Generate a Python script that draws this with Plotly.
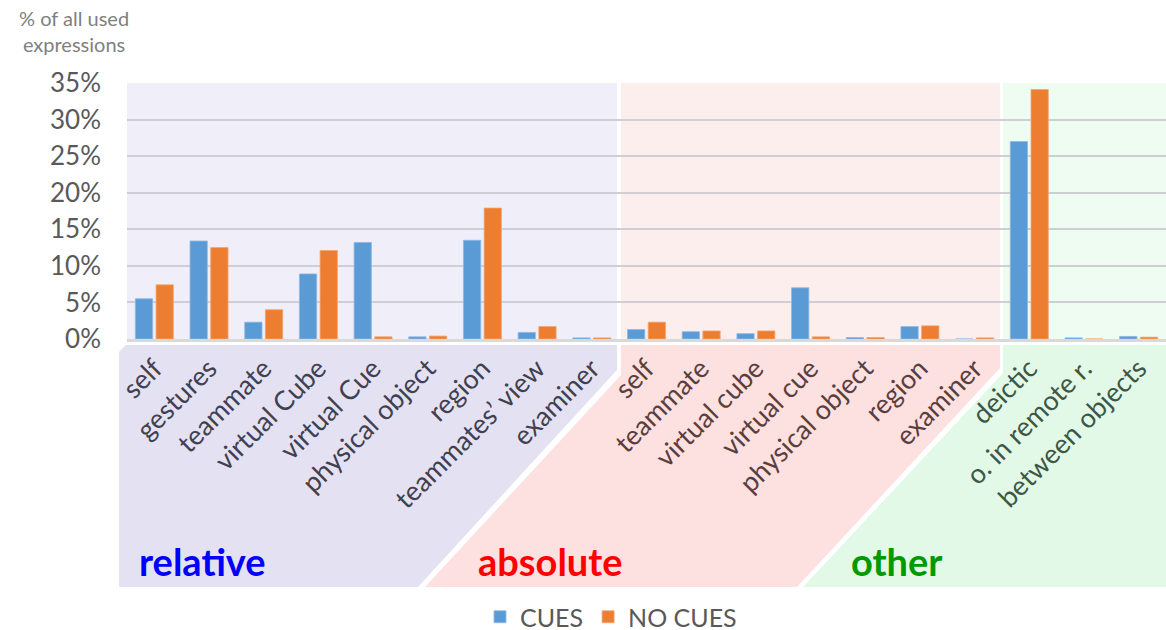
import plotly.graph_objects as go

# ---------------- data ----------------
categories = ["self", "gestures", "teammate", "virtual Cube", "virtual Cue",
              "physical object", "region", "teammates’ view", "examiner",
              "self", "teammate", "virtual cube", "virtual cue",
              "physical object", "region", "examiner",
              "deictic", "o. in remote r.", "between objects"]
group_names = ["relative", "absolute", "other"]
group_sizes = [9, 7, 3]
cues = [5.5, 13.4, 2.3, 8.9, 13.2, 0.3, 13.5, 0.9, 0.15,
        1.3, 1.0, 0.73, 7.0, 0.2, 1.7, 0.0,
        27.0, 0.15, 0.35]
no_cues = [7.4, 12.5, 4.0, 12.1, 0.3, 0.4, 17.9, 1.7, 0.15,
           2.3, 1.1, 1.1, 0.3, 0.2, 1.8, 0.15,
           34.1, 0.0, 0.25]
y_ticks = [0, 5, 10, 15, 20, 25, 30, 35]
y_title = "% of all used<br>expressions"

# ---------------- styling ----------------
FONT = "Lato"
group_label_colors = {"relative": "#0000FF", "absolute": "#FF0000", "other": "#009A00"}
group_tick_colors = {"relative": "#404050", "absolute": "#5A3E3E", "other": "#3E5646"}
group_plot_bg = {"relative": "#EFEEF9", "absolute": "#FDEEEE", "other": "#EEFCF2"}
group_label_bg = {"relative": "#E4E2F2", "absolute": "#FDE0E0", "other": "#E2F9E8"}

groups = []
for g, n in zip(group_names, group_sizes):
    groups += [g] * n
x = list(range(len(categories)))
ticktext = [f'<span style="color:{group_tick_colors[g]}">{c}</span>'
            for c, g in zip(categories, groups)]

# pixel frame of the plot area
L, R, T, B = 127, 1166, 83, 339
W, H = R - L, B - T


def fx(p):
    return (p - L) / W


def fy(p):
    return (B - p) / H


def path(points):
    pts = [f"{fx(a):.5f},{fy(b):.5f}" for a, b in points]
    return "M " + " L ".join(pts) + " Z"


fig = go.Figure()
fig.add_trace(go.Bar(x=x, y=cues, name="CUES",
                     marker=dict(color="#5B9BD5", line=dict(color="#8DB9E4", width=0.8))))
fig.add_trace(go.Bar(x=x, y=no_cues, name="NO CUES",
                     marker=dict(color="#ED7D31", line=dict(color="#F3A46F", width=0.8))))

shapes = []
# plot-area background bands
bands = {"relative": (L, 617), "absolute": (621, 1000), "other": (1003, R)}
for g, (a, b) in bands.items():
    shapes.append(dict(type="rect", xref="paper", yref="paper",
                       x0=fx(a), x1=fx(b), y0=0, y1=1,
                       fillcolor=group_plot_bg[g], line=dict(width=0), layer="below"))
# label-area polygons
polys = {
    "relative": [(119, 352), (126, 345), (617, 345), (617, 370), (418, 587), (119, 587)],
    "absolute": [(621, 345), (1000, 345), (1000, 368), (797, 587), (425, 587), (621, 375)],
    "other": [(1003, 345), (1166, 345), (1166, 587), (803, 587), (1003, 373)],
}
for g, pts in polys.items():
    shapes.append(dict(type="path", xref="paper", yref="paper", path=path(pts),
                       fillcolor=group_label_bg[g], line=dict(width=0), layer="below"))

annotations = [
    dict(text=y_title, xref="paper", yref="paper",
         x=fx(74), y=fy(31), xanchor="center", yanchor="middle", showarrow=False,
         align="center", font=dict(family=FONT, size=20, color="#7F7F7F")),
]
label_pos = {"relative": 202, "absolute": 550, "other": 897}
for g in group_names:
    annotations.append(dict(text=f"<b>{g}</b>", xref="paper", yref="paper",
                            x=fx(label_pos[g]), y=fy(561), xanchor="center", yanchor="middle",
                            showarrow=False,
                            font=dict(family=FONT, size=38, color=group_label_colors[g])))

fig.update_layout(
    width=1166, height=630, autosize=False,
    margin=dict(l=L, r=1166 - R, t=T, b=630 - B),
    paper_bgcolor="white", plot_bgcolor="rgba(0,0,0,0)",
    barmode="group", bargap=0.243, bargroupgap=0.165,
    font=dict(family=FONT, color="#595959"),
    shapes=shapes, annotations=annotations,
    showlegend=True,
    legend=dict(orientation="h", x=fx(611), xanchor="center",
                yref="container", y=1 - 617 / 630, yanchor="middle",
                font=dict(family=FONT, size=25, color="#595959"),
                bgcolor="rgba(0,0,0,0)", itemwidth=30, traceorder="normal"),
    xaxis=dict(range=[-0.5, len(categories) - 0.5], tickmode="array", tickvals=x,
               ticktext=ticktext, tickangle=-45, showgrid=False, zeroline=False,
               showline=True, linecolor="#D9D9D9", linewidth=3, ticks="",
               automargin=False,
               tickfont=dict(family=FONT, size=27, color="#404040")),
    yaxis=dict(range=[0, 35], tickmode="array", tickvals=y_ticks,
               ticktext=[f"{v}%" for v in y_ticks], showgrid=True,
               gridcolor="#CFCDD6", gridwidth=1.6, zeroline=False, showline=False,
               ticks="", ticklabelstandoff=25, automargin=False,
               tickfont=dict(family=FONT, size=26, color="#595959")),
)

fig.write_html("out.html")
